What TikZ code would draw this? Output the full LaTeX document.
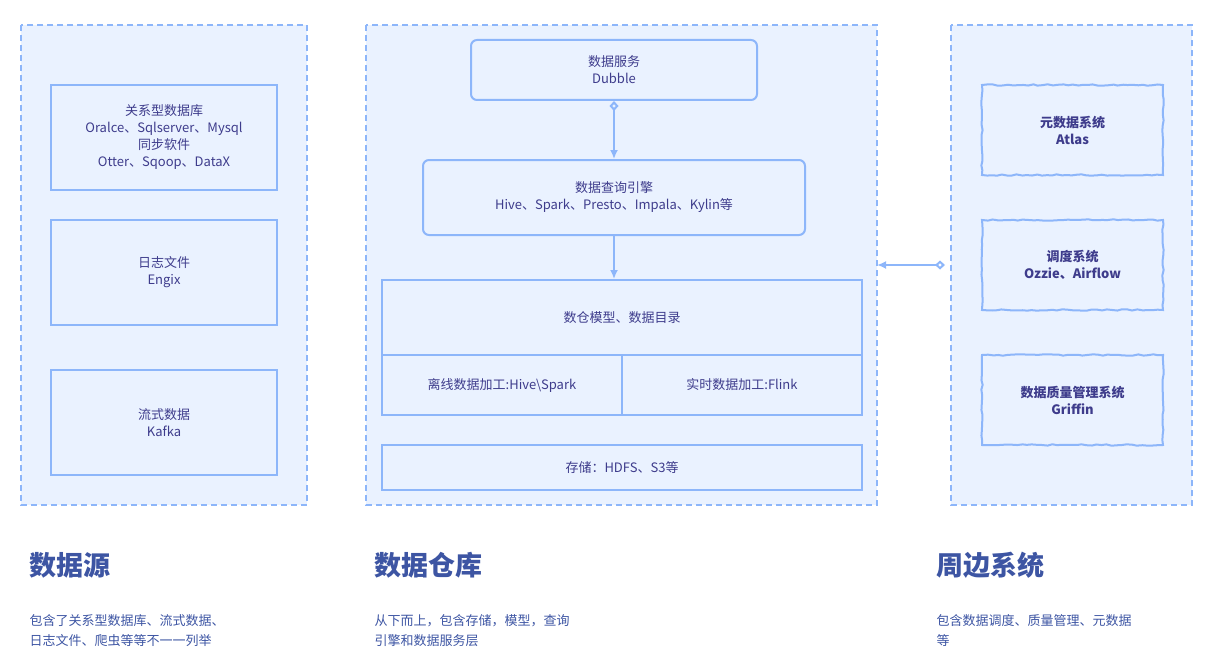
\documentclass[tikz,border=0pt]{standalone}
\usepackage{fontspec}
\setmainfont{Noto Sans CJK SC}
\usetikzlibrary{arrows.meta,positioning,decorations.pathmorphing}

\definecolor{panelfill}{HTML}{EAF2FF}
\definecolor{edgeblue}{HTML}{8DB6FA}
\definecolor{inkblue}{HTML}{3E3C8C}
\definecolor{headblue}{HTML}{3D55A3}

\tikzset{
  panel/.style={draw=edgeblue, fill=panelfill, line width=2pt, dash pattern=on 6pt off 4pt},
  box/.style={draw=edgeblue, line width=2pt, fill=panelfill, text=inkblue,
              font=\fontsize{13}{17}\selectfont, align=center, inner sep=0pt},
  sketch/.style={box, font=\bfseries\fontsize{13}{17}\selectfont,
                 decorate, decoration={random steps, segment length=5pt, amplitude=0.7pt}},
  title/.style={anchor=west, text=headblue, font=\bfseries\fontsize{27}{32}\selectfont},
  note/.style={anchor=north west, text=headblue, align=left, font=\fontsize{13}{20}\selectfont},
  link/.style={edgeblue, line width=2pt, -{Latex[length=9pt,width=8pt]}}
}

\begin{document}
\begin{tikzpicture}[x=1pt, y=-1pt]
  \useasboundingbox (0,0) rectangle (1223,666);

  % panels
  \draw[panel] (21,25) rectangle (307,505);
  \draw[panel] (366,25) rectangle (877,505);
  \draw[panel] (951,25) rectangle (1192,505);

  % data sources
  \node[box, minimum width=226pt, minimum height=105pt] (rdb) at (164,137.5)
       {关系型数据库\\Oralce、Sqlserver、Mysql\\同步软件\\Otter、Sqoop、DataX};
  \node[box, minimum width=226pt, minimum height=105pt] (log) at (164,272.5) {日志文件\\Engix};
  \node[box, minimum width=226pt, minimum height=105pt] (stream) at (164,422.5) {流式数据\\Kafka};

  % warehouse
  \node[box, rounded corners=6pt, minimum width=286pt, minimum height=60pt] (service) at (614,70) {数据服务\\Dubble};
  \node[box, rounded corners=6pt, minimum width=382pt, minimum height=75pt] (query) at (614,197.5)
       {数据查询引擎\\Hive、Spark、Presto、Impala、Kylin等};
  \node[box, minimum width=480pt, minimum height=75pt] (model) at (622,317.5) {数仓模型、数据目录};
  \node[box, minimum width=240pt, minimum height=60pt] (offline) at (502,385) {离线数据加工:Hive\textbackslash Spark};
  \node[box, minimum width=240pt, minimum height=60pt] (realtime) at (742,385) {实时数据加工:Flink};
  \node[box, minimum width=480pt, minimum height=45pt] (storage) at (622,467.5) {存储：HDFS、S3等};

  \draw[link, {Diamond[open,length=10pt,width=9pt]}-{Latex[length=9pt,width=8pt]}] (service) -- (query);
  \draw[link] (query.south) -- (query.south |- model.north);

  % peripheral systems
  \node[sketch, minimum width=181pt, minimum height=90pt] (meta) at (1072.5,130) {元数据系统\\\textit{Atlas}};
  \node[sketch, minimum width=181pt, minimum height=90pt] (sched) at (1072.5,265) {调度系统\\\textit{Ozzie、Airflow}};
  \node[sketch, minimum width=181pt, minimum height=90pt] (quality) at (1072.5,400) {数据质量管理系统\\\textit{Griffin}};

  \coordinate (side) at (945,265);
  \coordinate (whouse) at (877,265);
  \draw[link, {Diamond[open,length=10pt,width=9pt]}-{Latex[length=9pt,width=8pt]}] (side) -- (whouse);

  % captions
  \node[title] (t1) at (26,565) {数据源};
  \node[title] (t2) at (371,565) {数据仓库};
  \node[title] (t3) at (933,565) {周边系统};
  \node[note] (n1) at (26,611) {包含了关系型数据库、流式数据、\\日志文件、爬虫等等不一一列举};
  \node[note] (n2) at (371,611) {从下而上，包含存储，模型，查询\\引擎和数据服务层};
  \node[note] (n3) at (933,611) {包含数据调度、质量管理、元数据\\等};
\end{tikzpicture}
\end{document}
